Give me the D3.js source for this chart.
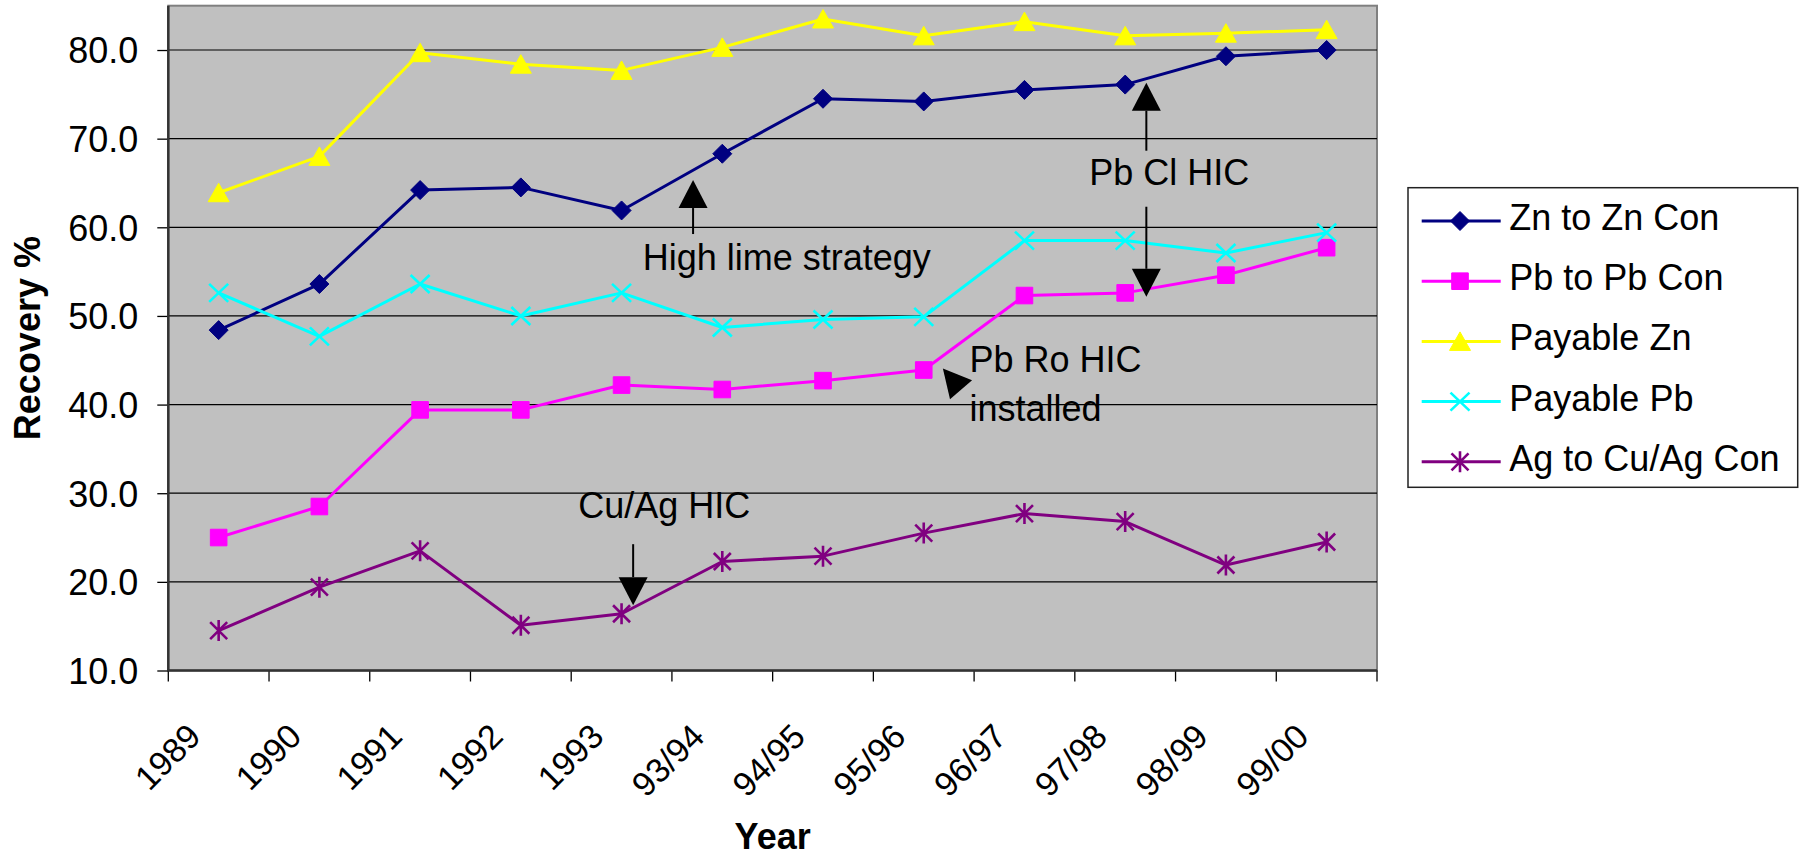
<!DOCTYPE html>
<html><head><meta charset="utf-8">
<script src="https://cdn.jsdelivr.net/npm/d3@7"></script>
<style>
html,body{margin:0;padding:0;background:#fff;}
svg{display:block;font-family:"Liberation Sans", Arial, sans-serif;}
</style></head><body>
<svg id="chart" width="1799" height="858"></svg>
<script>
// ---------- data ----------
const categories = ["1989","1990","1991","1992","1993","93/94","94/95","95/96","96/97","97/98","98/99","99/00"];
const seriesNames = ["Zn to Zn Con","Pb to Pb Con","Payable Zn","Payable Pb","Ag to Cu/Ag Con"];
const znToZnCon   = [48.4, 53.6, 64.2, 64.5, 61.9, 68.3, 74.5, 74.2, 75.5, 76.1, 79.3, 80.0];
const pbToPbCon   = [25.0, 28.5, 39.4, 39.4, 42.2, 41.7, 42.7, 43.9, 52.3, 52.6, 54.6, 57.7];
const payableZn   = [63.9, 68.0, 79.7, 78.4, 77.7, 80.3, 83.5, 81.6, 83.2, 81.6, 81.9, 82.3];
const payablePb   = [52.6, 47.7, 53.6, 50.0, 52.6, 48.7, 49.6, 49.9, 58.5, 58.5, 57.1, 59.4];
const agToCuAgCon = [14.5, 19.4, 23.5, 15.1, 16.4, 22.3, 22.9, 25.5, 27.7, 26.8, 21.9, 24.5];
const yTicks = [10, 20, 30, 40, 50, 60, 70, 80];
const yDomain = [10, 85];
const xTitle = "Year";
const yTitle = "Recovery %";
// annotation texts, placed in data space (u = fractional category position, v = value)
const noteTexts = ["High lime strategy", "Pb Cl HIC", "Pb Ro HIC", "installed", "Cu/Ag HIC"];
const noteU     = [4.71, 9.143, 7.954, 7.954, 4.07];
const noteV     = [55.17, 64.77, 43.70, 38.17, 27.15];
// arrows: tail (u0,v0) -> tip (u1,v1)
const arrowU0 = [5.21, 9.71, 9.71, 7.876, 4.615];
const arrowV0 = [59.24, 68.64, 62.32, 41.60, 24.25];
const arrowU1 = [5.21, 9.71, 9.71, 7.69, 4.615];
const arrowV1 = [65.33, 76.31, 52.16, 44.08, 17.37];

const seriesValues = [znToZnCon, pbToPbCon, payableZn, payablePb, agToCuAgCon];
const series = seriesNames.map((n, i) => ({name: n, values: seriesValues[i]}));

// ---------- styles ----------
const seriesStyle = [
  {color: "#000080", marker: "diamond"},
  {color: "#FF00FF", marker: "square"},
  {color: "#FFFF00", marker: "triangle"},
  {color: "#00FFFF", marker: "x"},
  {color: "#800080", marker: "star"}
];
const FONT = 36, XFONT = 34;

const svg = d3.select("#chart");
const plot = {left: 168.3, right: 1377, top: 5.7, bottom: 670.5};

const x = d3.scaleBand().domain(categories).range([plot.left, plot.right]).padding(0);
const cx = c => x(c) + x.bandwidth() / 2;
const u = d3.scaleLinear().domain([0, categories.length]).range([plot.left, plot.right]);
const y = d3.scaleLinear().domain(yDomain).range([plot.bottom, plot.top]);

// plot background
svg.append("rect")
  .attr("x", plot.left).attr("y", plot.top)
  .attr("width", plot.right - plot.left).attr("height", plot.bottom - plot.top)
  .attr("fill", "#C0C0C0").attr("stroke", "#808080").attr("stroke-width", 2);

// gridlines
svg.append("g").selectAll("line").data(yTicks.filter(t => t > yDomain[0])).join("line")
  .attr("x1", plot.left).attr("x2", plot.right)
  .attr("y1", d => y(d)).attr("y2", d => y(d))
  .attr("stroke", "#000").attr("stroke-width", 1.2);

// y axis
const yAxis = d3.axisLeft(y).tickValues(yTicks).tickFormat(d3.format(".1f")).tickSize(11).tickPadding(19);
const gy = svg.append("g").attr("transform", `translate(${plot.left},0)`).call(yAxis);
gy.select(".domain").remove();
gy.selectAll(".tick line").attr("stroke", "#000").attr("stroke-width", 1.3);
gy.selectAll(".tick text").attr("font-size", FONT).attr("font-family", "Liberation Sans, Arial, sans-serif")
  .attr("fill", "#000").attr("dy", "0.36em");
svg.append("line").attr("x1", plot.left).attr("x2", plot.left).attr("y1", plot.top).attr("y2", plot.bottom)
  .attr("stroke", "#333").attr("stroke-width", 2.5);

// x axis: ticks at category boundaries
const boundaries = categories.map(c => x(c)).concat([x(categories[categories.length - 1]) + x.bandwidth()]);
svg.append("g").selectAll("line").data(boundaries).join("line")
  .attr("x1", d => d).attr("x2", d => d)
  .attr("y1", plot.bottom).attr("y2", plot.bottom + 11)
  .attr("stroke", "#000").attr("stroke-width", 1.3);
svg.append("line").attr("x1", plot.left).attr("x2", plot.right).attr("y1", plot.bottom).attr("y2", plot.bottom)
  .attr("stroke", "#333").attr("stroke-width", 2.5);
svg.append("g").selectAll("text").data(categories).join("text")
  .attr("transform", d => `translate(${cx(d) - 16},${plot.bottom + 68}) rotate(-45)`)
  .attr("text-anchor", "end").attr("font-size", XFONT).attr("fill", "#000")
  .text(d => d);

// axis titles
svg.append("text").attr("transform", `translate(40,${(plot.top + plot.bottom) / 2}) rotate(-90)`)
  .attr("text-anchor", "middle").attr("font-size", FONT).attr("font-weight", "bold").text(yTitle);
svg.append("text").attr("x", (plot.left + plot.right) / 2).attr("y", 849)
  .attr("text-anchor", "middle").attr("font-size", FONT).attr("font-weight", "bold").text(xTitle);

// markers
function markerPath(type) {
  switch (type) {
    case "diamond": return "M0,-9.5L9.5,0L0,9.5L-9.5,0Z";
    case "square": return "M-8.3,-8.3H8.3V8.3H-8.3Z";
    case "triangle": return "M0,-9.5L10.5,9L-10.5,9Z";
    case "x": return "M-9.5,-9L9.5,9M-9.5,9L9.5,-9";
    case "star": return "M-8.5,-8.5L8.5,8.5M-8.5,8.5L8.5,-8.5M0,-10.5V10.5";
  }
}
function drawMarker(sel, style) {
  const open = style.marker === "x" || style.marker === "star";
  sel.attr("d", markerPath(style.marker))
    .attr("fill", open ? "none" : style.color)
    .attr("stroke", style.color)
    .attr("stroke-width", open ? 2.6 : 1);
}

const line = d3.line().x((d, i) => cx(categories[i])).y(d => y(d));
series.forEach((s, si) => {
  const st = seriesStyle[si];
  const g = svg.append("g");
  g.append("path").attr("d", line(s.values)).attr("fill", "none")
    .attr("stroke", st.color).attr("stroke-width", 3).attr("stroke-linejoin", "round");
  g.selectAll("path.m").data(s.values).join("path").attr("class", "m")
    .attr("transform", (d, i) => `translate(${cx(categories[i])},${y(d)})`)
    .call(sel => drawMarker(sel, st));
});

// annotations
svg.append("g").selectAll("text").data(noteTexts).join("text")
  .attr("x", (d, i) => u(noteU[i])).attr("y", (d, i) => y(noteV[i]))
  .attr("font-size", FONT).attr("fill", "#000").text(d => d);

const headLen = 28, headW = 29;
const ag = svg.append("g");
arrowU0.forEach((_, i) => {
  const x0 = u(arrowU0[i]), y0 = y(arrowV0[i]), x1 = u(arrowU1[i]), y1 = y(arrowV1[i]);
  const L = Math.hypot(x1 - x0, y1 - y0);
  const dx = (x1 - x0) / L, dy = (y1 - y0) / L;
  const bx = x1 - dx * headLen, by = y1 - dy * headLen;
  if (L > headLen + 1) {
    ag.append("line").attr("x1", x0).attr("y1", y0).attr("x2", bx).attr("y2", by)
      .attr("stroke", "#000").attr("stroke-width", 2);
  }
  const px = -dy, py = dx;
  ag.append("path")
    .attr("d", `M${x1},${y1}L${bx + px * headW / 2},${by + py * headW / 2}L${bx - px * headW / 2},${by - py * headW / 2}Z`)
    .attr("fill", "#000");
});

// legend
const leg = svg.append("g").attr("transform", "translate(1408,187.7)");
leg.append("rect").attr("width", 389.7).attr("height", 299.6)
  .attr("fill", "#fff").attr("stroke", "#222").attr("stroke-width", 1.5);
series.forEach((s, si) => {
  const st = seriesStyle[si];
  const ry = 33.3 + si * 60.2;
  const r = leg.append("g").attr("transform", `translate(0,${ry})`);
  r.append("line").attr("x1", 13.7).attr("x2", 92.7).attr("y1", 0).attr("y2", 0)
    .attr("stroke", st.color).attr("stroke-width", 3);
  r.append("path").attr("transform", "translate(52,0)").call(sel => drawMarker(sel, st));
  r.append("text").attr("x", 101.3).attr("y", 9).attr("font-size", FONT).attr("fill", "#000").text(s.name);
});
</script>
</body></html>
